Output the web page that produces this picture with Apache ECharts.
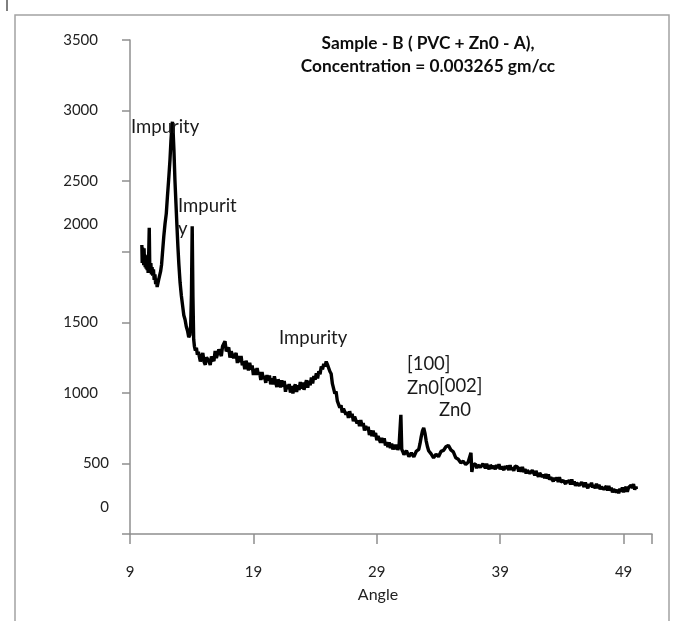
<!DOCTYPE html>
<html>
<head>
<meta charset="utf-8">
<script src="https://cdn.jsdelivr.net/npm/echarts@6/dist/echarts.min.js"></script>
<style>
html,body{margin:0;padding:0;background:#fff;}
#chart{width:677px;height:621px;}
</style>
</head>
<body>
<div id="chart"></div>
<script>
// ---- data ----
const angle = [
 9.96,9.99,10.02,10.05,10.08,10.11,10.14,10.17,10.20,10.23,
 10.27,10.31,10.35,10.39,10.43,10.47,10.51,10.56,10.60,10.64,
 10.69,10.74,10.79,10.84,10.90,10.96,11.02,11.08,11.14,11.20,
 11.26,11.32,11.40,11.48,11.56,11.64,11.74,11.84,11.94,12.04,
 12.14,12.24,12.32,12.40,12.44,12.50,12.56,12.64,12.72,12.80,
 12.88,12.96,13.06,13.16,13.26,13.36,13.46,13.56,13.66,13.76,
 13.86,13.92,13.98,14.04,14.10,14.16,14.22,14.30,14.38,14.46,
 14.54,
 14.6,14.7,14.8,14.9,15.0,15.1,15.2,15.3,15.4,15.5,
 15.6,15.7,15.8,15.9,16.0,16.1,16.2,16.3,16.4,16.5,
 16.6,16.7,16.8,16.9,17.0,17.1,17.2,17.3,17.4,17.5,
 17.6,17.7,17.8,17.9,18.0,18.1,18.2,18.3,18.4,18.5,
 18.6,18.7,18.8,18.9,19.0,19.1,19.2,19.3,19.4,19.5,
 19.6,19.7,19.8,19.9,20.0,20.1,20.2,20.3,20.4,20.5,
 20.6,20.7,20.8,20.9,21.0,21.1,21.2,21.3,21.4,21.5,
 21.6,21.7,21.8,21.9,22.0,22.1,22.2,22.3,22.4,22.5,
 22.6,22.7,22.8,22.9,23.0,23.1,23.2,23.3,23.4,23.5,
 23.6,23.7,23.8,23.9,24.0,24.1,24.2,24.3,24.4,24.5,
 24.6,24.7,24.8,24.9,25.0,25.1,25.2,25.3,25.4,25.5,
 25.6,25.7,25.8,25.9,26.0,
 26.1,26.2,26.3,26.4,26.5,26.6,26.7,26.8,26.9,27.0,
 27.1,27.2,27.3,27.4,27.5,27.6,27.7,27.8,27.9,28.0,
 28.1,28.2,28.3,28.4,28.5,28.6,28.7,28.8,28.9,29.0,
 29.1,29.2,29.3,29.4,29.5,29.6,29.7,29.8,29.9,30.0,
 30.1,30.2,30.3,30.4,30.5,30.6,30.7,30.8,
 30.88,30.95,31.02,31.1,
 31.2,31.4,31.6,31.8,32.0,32.2,32.4,32.5,32.6,32.7,
 32.8,32.9,33.0,33.1,33.2,33.4,33.6,33.8,34.0,34.2,
 34.4,34.6,34.8,35.0,35.2,35.4,35.6,35.8,36.0,36.2,
 36.4,36.55,36.63,36.7,36.8,36.9,
 37.0,37.1,37.2,37.3,37.4,37.5,37.6,37.7,37.8,37.9,
 38.0,38.1,38.2,38.3,38.4,38.5,38.6,38.7,38.8,38.9,
 39.0,39.1,39.2,39.3,39.4,39.5,39.6,39.7,39.8,39.9,
 40.0,40.1,40.2,40.3,40.4,40.5,40.6,40.7,40.8,40.9,
 41.0,41.1,41.2,41.3,41.4,41.5,41.6,41.7,41.8,41.9,
 42.0,42.1,42.2,42.3,42.4,42.5,42.6,42.7,42.8,42.9,
 43.0,43.1,43.2,43.3,43.4,43.5,43.6,43.7,43.8,43.9,
 44.0,44.1,44.2,44.3,44.4,44.5,44.6,44.7,44.8,44.9,
 45.0,45.1,45.2,45.3,45.4,45.5,45.6,45.7,45.8,45.9,
 46.0,46.1,46.2,46.3,46.4,46.5,46.6,46.7,46.8,46.9,
 47.0,47.1,47.2,47.3,47.4,47.5,47.6,47.7,47.8,47.9,
 48.0,48.1,48.2,48.3,48.4,48.5,48.6,48.7,48.8,48.9,
 49.0,49.1,49.2,49.3,49.4,49.5,49.6,49.7,49.8,49.9,
 50.0,50.04
];
const intensity = [
 2047,1920,2030,1940,2000,1905,2025,1935,1980,1890,
 1975,1880,1950,1870,1940,1850,1960,2170,1900,1860,
 1920,1840,1890,1830,1875,1800,1840,1770,1810,1750,
 1745,1800,1790,1860,1910,2000,2110,2200,2270,2400,
 2520,2650,2790,2900,2920,2840,2720,2510,2350,2190,
 2040,1910,1780,1690,1620,1550,1520,1470,1440,1395,
 1410,1480,1700,2180,1680,1380,1330,1300,1320,1270,
 1290,
 1280,1222,1260,1282,1220,1199,1252,1266,1224,1197,
 1258,1249,1225,1296,1247,1238,1308,1299,1260,1330,
 1316,1366,1295,1298,1322,1250,1294,1302,1246,1265,
 1283,1212,1260,1217,1261,1195,1224,1168,1227,1200,
 1159,1213,1166,1194,1127,1170,1128,1175,1128,1146,
 1092,1148,1099,1120,1071,1126,1087,1123,1060,1102,
 1059,1117,1074,1041,1094,1076,1039,1089,1044,1084,
 1008,1058,1028,1062,1002,1049,996,1042,1059,1006,
 1053,1020,1076,1030,1073,1022,1060,1089,1037,1086,
 1054,1108,1067,1120,1094,1138,1102,1153,1132,1187,
 1166,1205,1188,1222,1200,1205,1151,1135,1065,1055,
 995,1010,943,955,895,
 912,861,889,897,846,864,822,870,828,851,
 799,832,835,783,806,764,807,764,786,733,
 765,737,759,701,735,694,733,692,716,665,
 694,703,647,681,645,679,628,651,615,649,
 608,641,599,632,600,633,596,620,
 627,845,600,585,
 563,590,548,574,546,586,600,640,690,730,
 752,715,660,620,590,568,540,565,548,585,
 592,618,628,596,582,540,530,505,515,492,
 508,495,575,440,490,482,
 497,466,489,503,473,460,497,484,466,498,
 474,459,488,500,465,483,458,490,467,495,
 458,477,490,453,481,463,484,452,488,455,
 470,447,480,466,475,442,474,441,475,438,
 461,429,450,462,430,416,451,437,416,447,
 422,405,432,442,405,420,396,426,392,423,
 385,402,413,373,398,381,401,368,402,369,
 359,379,392,354,378,363,383,351,386,352,
 373,341,362,376,344,331,366,353,334,365,
 341,325,353,337,363,329,346,323,357,324,
 349,317,334,346,316,318,339,307,341,307,
 328,296,317,330,297,313,289,320,300,330,
 296,318,334,299,330,319,346,326,354,315,
 335,318
];
const yTickLabels = ['0','500','1000','1500','2000','2500','3000','3500'];
const xTickLabels = ['9','19','29','39','49'];
const titleLines = ['Sample - B ( PVC + Zn0 - A),', 'Concentration = 0.003265 gm/cc'];
const xAxisName = 'Angle';
const noteTexts = ['Impurity', 'Impurit\ny', 'Impurity', '[100]\nZn0', '[002]\nZn0'];

// ---- chart ----
const FONT = 'Lato';
const series = angle.map((a, i) => [a, intensity[i]]);
const chart = echarts.init(document.getElementById('chart'), null, {renderer: 'canvas'});

const notePos = [
  {x: 131, y: 127},
  {x: 178, y: 217.5},
  {x: 279, y: 338},
  {x: 407, y: 376},
  {x: 439, y: 398.5}
];

const axisGray = '#8f8f8f';
chart.setOption({
  animation: false,
  backgroundColor: '#fff',
  grid: {left: 130, top: 40, right: 25, bottom: 87, containLabel: false},
  xAxis: {
    type: 'value', min: 9, max: 51.3, interval: 10,
    name: xAxisName, nameLocation: 'middle', nameGap: 53,
    nameTextStyle: {fontFamily: FONT, fontSize: 16, color: '#222', padding: [0, 26, 0, 0]},
    axisLine: {show: true, onZero: false, lineStyle: {color: axisGray, width: 1.5}},
    axisTick: {show: true, length: 10, lineStyle: {color: axisGray, width: 1.5}},
    axisLabel: {margin: 31, fontFamily: FONT, fontSize: 15, color: '#222',
      formatter: v => xTickLabels.includes(String(v)) ? String(v) : ''},
    splitLine: {show: false}
  },
  yAxis: {
    type: 'value', min: 0, max: 3500, interval: 500,
    axisLine: {show: true, lineStyle: {color: axisGray, width: 1.5}},
    axisTick: {show: true, length: 8, lineStyle: {color: axisGray, width: 1.5}},
    axisLabel: {
      margin: 21, fontFamily: FONT, fontSize: 15, color: '#222',
      formatter: v => {
        const s = yTickLabels[Math.round(v / 500)];
        if (v === 0) return '{z|' + s + '}';
        if (v === 500) return '{f|' + s + '}';
        if (v === 2000) return '{s|' + s + '}';
        return '{n|' + s + '}';
      },
      rich: {
        n: {fontFamily: FONT, fontSize: 15, color: '#222', padding: [0, 11, 0, 0]},
        s: {fontFamily: FONT, fontSize: 15, color: '#222', padding: [0, 11, 56, 0]},
        z: {fontFamily: FONT, fontSize: 15, color: '#222', padding: [0, 0, 54, 0]},
        f: {fontFamily: FONT, fontSize: 15, color: '#222'}
      }
    },
    splitLine: {show: false}
  },
  graphic: [
    {type: 'rect', z: -10, shape: {x: 15, y: 15, width: 654, height: 640},
     style: {fill: 'none', stroke: '#a3a3a3', lineWidth: 1.5}},
    {type: 'line', shape: {x1: 7, y1: 0, x2: 7, y2: 11}, style: {stroke: '#000', lineWidth: 1}},
    {type: 'text', x: 428, y: 54.5, style: {
      text: titleLines.join('\n'), fontFamily: FONT, fontWeight: 'bold', fontSize: 17.3,
      lineHeight: 23, fill: '#0d0d0d', align: 'center', verticalAlign: 'middle'}}
  ].concat(noteTexts.map((t, i) => ({
    type: 'text', x: notePos[i].x, y: notePos[i].y, z: 10,
    style: {text: t, fontFamily: FONT, fontSize: 18.5, lineHeight: (i >= 3 ? 24 : 23),
      fill: '#1a1a1a', align: 'left', verticalAlign: 'middle'}
  }))),
  series: [{
    type: 'line', data: series, showSymbol: false, symbol: 'none',
    lineStyle: {color: '#000', width: 3.4}, z: 5
  }]
});
</script>
</body>
</html>
